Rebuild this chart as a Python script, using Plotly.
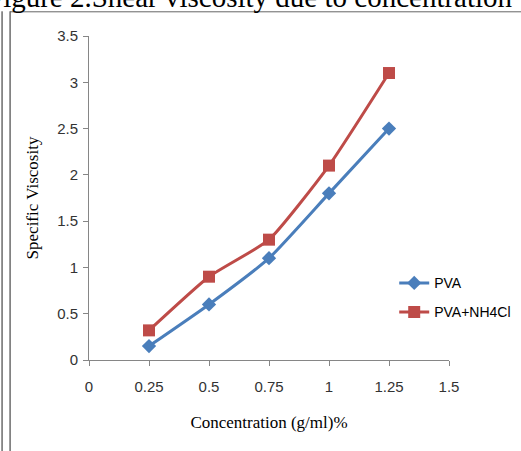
import plotly.graph_objects as go

concentration = [0.25, 0.5, 0.75, 1.0, 1.25]
pva = [0.15, 0.6, 1.1, 1.8, 2.5]
pva_nh4cl = [0.32, 0.9, 1.3, 2.1, 3.1]
x_ticks = [0, 0.25, 0.5, 0.75, 1, 1.25, 1.5]
y_ticks = [0, 0.5, 1, 1.5, 2, 2.5, 3, 3.5]

W, H = 521, 451
L, R, T, B = 89.3, 448.7, 35.7, 359.7
PW, PH = R - L, B - T

def px(x):
    return (x - L) / PW

def py(y):
    return (B - y) / PH

fig = go.Figure()
fig.add_trace(go.Scatter(
    x=concentration, y=pva, name="PVA", mode="lines+markers",
    line=dict(color="#4A7EBB", width=3, shape="spline", smoothing=0.5),
    marker=dict(symbol="diamond", size=11, color="#4A7EBB"),
    legend="legend"))
fig.add_trace(go.Scatter(
    x=concentration, y=pva_nh4cl, name="PVA+NH4Cl", mode="lines+markers",
    line=dict(color="#BE4B48", width=3, shape="spline", smoothing=0.5),
    marker=dict(symbol="square", size=12, color="#BE4B48"),
    legend="legend2"))

axis_common = dict(showgrid=False, zeroline=False, showline=True,
                   linecolor="#868686", linewidth=1, ticks="outside",
                   ticklen=5, tickcolor="#868686", automargin=False,
                   tickfont=dict(family="Liberation Sans, Arial", size=15, color="#333"))

fig.update_layout(
    width=W, height=H,
    margin=dict(l=L, r=W - R, t=T, b=H - B, pad=0, autoexpand=False),
    plot_bgcolor="white", paper_bgcolor="white",
    xaxis=dict(range=[0, 1.5], tickvals=x_ticks, ticktext=[f"{v:g}" for v in x_ticks],
               ticklabelstandoff=8,
               title=dict(text="Concentration (g/ml)%", standoff=22,
                          font=dict(family="Liberation Serif, Times New Roman", size=17, color="#000")),
               **axis_common),
    yaxis=dict(range=[0, 3.5], tickvals=y_ticks, ticktext=[f"{v:g}" for v in y_ticks],
               ticklabelstandoff=2,
               title=dict(text="Specific Viscosity", standoff=14,
                          font=dict(family="Liberation Serif, Times New Roman", size=17, color="#000")),
               **axis_common),
    legend=dict(x=px(394), y=py(283), xanchor="left", yanchor="middle",
                bgcolor="rgba(0,0,0,0)", itemwidth=30,
                font=dict(family="Liberation Sans, Arial", size=14, color="#000")),
    legend2=dict(x=px(394), y=py(312), xanchor="left", yanchor="middle",
                 bgcolor="rgba(0,0,0,0)", itemwidth=30,
                 font=dict(family="Liberation Sans, Arial", size=14, color="#000")),
    showlegend=True,
)

fig.add_annotation(text="Figure 2.Shear viscosity due to concentration",
                   xref="paper", yref="paper", x=px(515), y=py(15),
                   xanchor="right", yanchor="bottom", showarrow=False,
                   font=dict(family="Liberation Serif, Times New Roman", size=29, color="#000"))

# page frame lines
fig.add_shape(type="line", xref="paper", yref="paper", x0=px(2.5), x1=px(2.5), y0=py(11), y1=py(451),
              line=dict(color="#222", width=1))
fig.add_shape(type="line", xref="paper", yref="paper", x0=px(10.5), x1=px(10.5), y0=py(11), y1=py(451),
              line=dict(color="#222", width=1))
fig.add_shape(type="line", xref="paper", yref="paper", x0=px(10.5), x1=px(521), y0=py(11.5), y1=py(11.5),
              line=dict(color="#666", width=1))

fig.write_html("out.html", config={"displayModeBar": False},
               post_script="document.body.style.margin='0';document.body.style.overflow='hidden';")
